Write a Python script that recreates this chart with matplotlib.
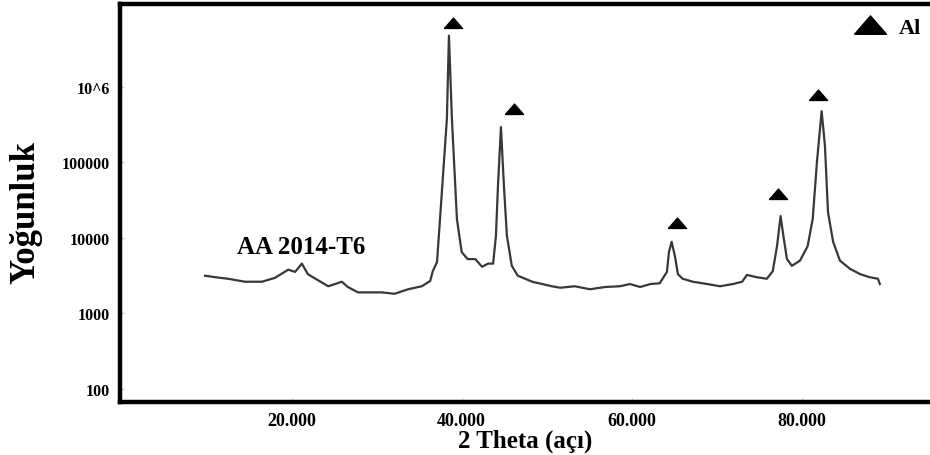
import matplotlib
matplotlib.use("Agg")
import matplotlib.pyplot as plt
from matplotlib.lines import Line2D

plt.rcParams["font.family"] = ["Liberation Serif", "DejaVu Serif"]
plt.rcParams["font.weight"] = "bold"

# 2 theta (derece) ve yogunluk (sayim)
two_theta = [
    9.8, 11.0, 12.5, 14.5, 16.5, 18.0, 19.6, 20.4, 21.2, 21.9,
    23.1, 24.3, 25.1, 25.9, 26.6, 27.8, 29.0, 30.6, 32.1, 33.7,
    35.3, 36.3, 36.6, 37.1, 37.45, 38.26, 38.5, 38.85, 39.44, 40.0,
    40.7, 41.6, 42.4, 43.1, 43.7, 44.03, 44.27, 44.62, 44.97, 45.32,
    45.9, 46.6, 48.3, 50.6, 51.6, 53.3, 55.1, 56.9, 58.6, 59.8,
    61.0, 62.2, 63.3, 64.15, 64.38, 64.7, 65.09, 65.44, 66.0, 67.2,
    68.9, 70.4, 71.9, 73.0, 73.56, 74.7, 75.9, 76.6, 77.1, 77.52,
    77.9, 78.27, 78.85, 79.8, 80.7, 81.3, 81.8, 82.35, 82.74, 83.1,
    83.7, 84.5, 85.7, 86.9, 88.0, 88.97, 89.2,
]
intensity = [
    3160, 3020, 2880, 2630, 2630, 2950, 3800, 3550, 4570, 3310,
    2750, 2290, 2450, 2630, 2240, 1900, 1900, 1900, 1820, 2090,
    2290, 2690, 3630, 4790, 17800, 380000, 4800000, 380000, 17800, 6500,
    5250, 5250, 4150, 4570, 4570, 10700, 49000, 295000, 49000, 10700,
    4270, 3160, 2630, 2290, 2190, 2290, 2090, 2240, 2290, 2450,
    2240, 2450, 2510, 3550, 6460, 8900, 5750, 3310, 2880, 2630,
    2450, 2290, 2450, 2630, 3240, 3020, 2880, 3630, 7760, 19500,
    9770, 5250, 4270, 5010, 7760, 17800, 102000, 479000, 166000, 21900,
    8910, 5010, 3890, 3310, 3020, 2880, 2450,
]

# Al pik isaretleri (ucgen)
peak_x = [38.97, 46.15, 65.3, 77.2, 81.9]
peak_y = [7.1e6, 5.1e5, 1.58e4, 3.8e4, 7.8e5]

y_ticks = [100, 1000, 10000, 100000, 1000000]
y_tick_labels = ["100", "1000", "10000", "100000", "10^6"]
x_ticks = [20, 40, 60, 80]
x_tick_labels = ["20.000", "40.000", "60.000", "80.000"]

# basik ucgen
tri = [(-1.0, -0.55), (1.0, -0.55), (0.0, 0.6), (-1.0, -0.55)]

fig = plt.figure(figsize=(9.3, 4.56), dpi=100)
ax = fig.add_axes([120 / 930, 53 / 456, 810 / 930, 398 / 456])

ax.plot(two_theta, intensity, color="#383838", lw=1.6)
ax.plot(peak_x, peak_y, ls="none", marker=tri, ms=13, color="black")

ax.set_yscale("log")
ax.set_xlim(-0.2, 95.1)
ax.set_ylim(67, 1.26e7)

ax.set_yticks(y_ticks)
ax.set_yticklabels(y_tick_labels)
ax.minorticks_off()
ax.set_xticks(x_ticks)
ax.set_xticklabels(x_tick_labels)
ax.tick_params(axis="both", direction="in", length=3, width=1, color="#cccccc")
ax.tick_params(axis="y", labelsize=11.5, pad=7)
ax.tick_params(axis="x", labelsize=13, pad=7)

for side in ["left", "bottom", "top"]:
    ax.spines[side].set_linewidth(3.2)
    ax.spines[side].set_color("black")
ax.spines["right"].set_visible(False)

ax.text(13.6, 7700, "AA 2014-T6", fontsize=18, fontweight="bold",
        ha="left", va="center")

ax.set_xlabel("2 Theta (açı)", fontsize=18, fontweight="bold", labelpad=0)
fig.text(26 / 930, 1 - 212 / 456, "Yoğunluk", fontsize=25, fontweight="bold",
         rotation=90, ha="center", va="center")

handle = Line2D([], [], ls="none", marker=tri, ms=23, color="black", label="Al")
ax.legend(handles=[handle], loc="upper right", bbox_to_anchor=(1.005, 1.0),
          frameon=False, handlelength=1.2, handletextpad=0.7,
          borderaxespad=0.2, prop={"size": 16, "weight": "bold"})

fig.savefig("out.png", dpi=100)
